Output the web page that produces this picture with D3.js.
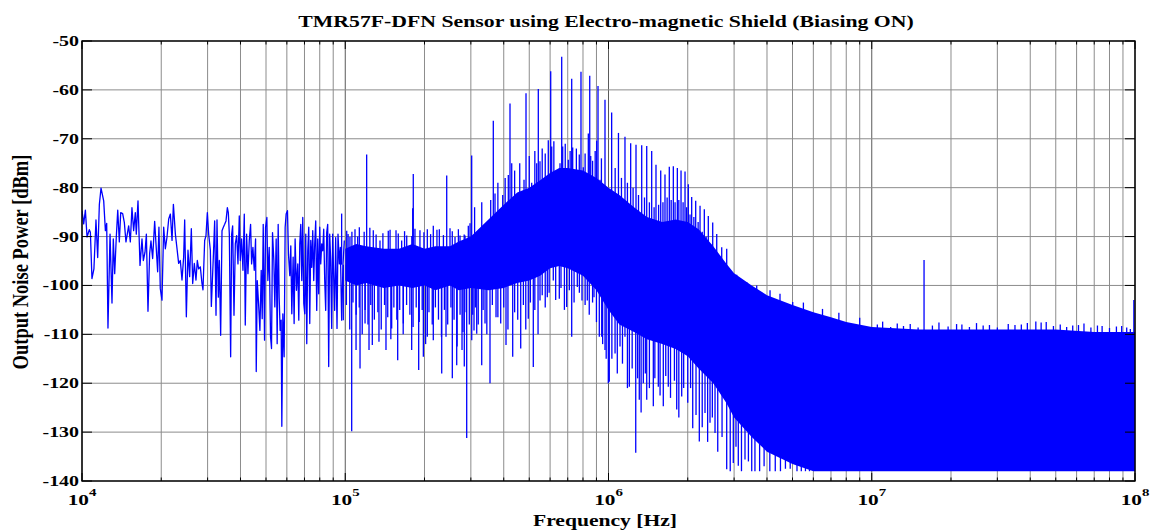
<!DOCTYPE html>
<html>
<head>
<meta charset="utf-8">
<script src="https://cdn.jsdelivr.net/npm/d3@7"></script>
<style>
  body { margin: 0; background: #fff; }
  text { font-family: "Liberation Serif", "Times New Roman", serif; font-weight: bold; fill: #000; }
</style>
</head>
<body>
<div id="chart"></div>
<script>
// Noise spectrum.
// Low band (10 kHz - 100 kHz): the trace itself, frequency in kHz
const lowKHz = [
  10.00, 10.15, 10.30, 10.45, 10.66, 10.76, 10.91, 11.10, 11.30, 11.47, 11.64, 11.81, 12.09, 12.27, 12.41, 12.55,
  12.78, 13.00, 13.15, 13.31, 13.50, 13.67, 13.86, 14.03, 14.27, 14.48, 14.69, 15.04, 15.26, 15.48, 15.71, 15.94,
  16.08, 16.32, 16.61, 16.90, 17.10, 17.35, 17.56, 17.81, 18.07, 18.28, 18.55, 18.88, 19.15, 19.38, 19.60, 19.83,
  20.13, 20.43, 20.73, 21.03, 21.35, 21.66, 21.98, 22.24, 22.63, 22.96, 23.29, 23.63, 23.98, 24.33, 24.55, 24.91,
  25.27, 25.64, 26.02, 26.33, 26.71, 27.10, 27.42, 27.74, 28.15, 28.56, 28.81, 29.24, 29.58, 29.93, 30.28, 30.73,
  31.00, 31.54, 31.91, 32.29, 32.57, 32.95, 33.24, 33.63, 34.03, 34.43, 34.83, 35.24, 35.65, 35.96, 36.28, 36.70,
  37.03, 37.35, 37.79, 38.23, 38.68, 39.13, 39.58, 39.93, 40.40, 40.87, 41.35, 41.71, 42.20, 42.69, 43.19, 43.69,
  44.08, 44.59, 45.11, 45.64, 45.91, 46.31, 46.85, 47.40, 47.95, 48.37, 48.80, 49.37, 49.80, 50.38, 50.82, 51.42,
  52.02, 52.47, 52.93, 53.55, 54.02, 54.65, 55.13, 55.62, 56.10, 56.59, 57.09, 57.42, 57.93, 58.60, 59.12, 59.63,
  60.33, 60.86, 61.57, 62.11, 62.66, 63.39, 63.94, 64.50, 65.26, 66.02, 66.60, 67.18, 67.77, 68.36, 68.96, 69.57,
  70.18, 70.79, 71.41, 72.04, 72.67, 73.31, 73.95, 74.60, 75.25, 75.91, 76.57, 77.24, 77.92, 78.61, 79.29, 79.99,
  80.69, 81.40, 82.11, 82.83, 83.56, 84.29, 85.03, 85.77, 86.52, 87.28, 88.05, 88.82, 89.59, 90.38, 91.17, 91.97,
  93.05, 93.86, 94.96, 95.79, 96.91, 98.05, 99.19
];
const lowDb = [
  -84.7, -87.4, -84.6, -90.1, -88.6, -89.1, -98.6, -96.6, -86.6, -94.3, -83.4, -80.1, -82.7, -88.8, -87.3, -108.7,
  -89.5, -103.6, -90.5, -97.6, -90.1, -84.6, -91.1, -85.1, -85.3, -87.1, -91.1, -87.8, -91.1, -84.1, -88.8, -85.1,
  -89.5, -82.7, -95.9, -90.5, -94.9, -93.2, -89.5, -105.3, -93.5, -90.9, -94.5, -86.9, -92.5, -97.2, -88.1, -100.6,
  -103.0, -88.1, -92.5, -90.1, -86.4, -85.4, -90.8, -83.4, -89.5, -92.5, -95.5, -94.9, -98.9, -94.2, -86.6, -106.4,
  -92.8, -98.2, -88.4, -99.6, -95.5, -98.9, -94.9, -96.6, -96.2, -99.6, -100.9, -90.8, -89.8, -85.1, -89.5, -92.8,
  -104.3, -94.2, -86.8, -106.1, -86.6, -102.4, -94.9, -110.2, -88.8, -88.1, -87.5, -86.8, -84.1, -85.1, -89.5, -114.6,
  -89.5, -87.8, -106.1, -91.5, -89.8, -95.6, -85.8, -94.9, -90.5, -96.9, -85.4, -108.1, -89.5, -97.6, -90.8, -87.5,
  -95.6, -92.2, -96.9, -90.5, -117.6, -99.0, -103.7, -109.2, -96.9, -106.8, -87.5, -111.2, -88.1, -86.1, -99.0, -92.2,
  -110.5, -112.9, -89.2, -94.9, -104.4, -90.5, -111.9, -87.5, -102.4, -109.2, -107.1, -128.8, -105.8, -114.6, -88.1, -85.4,
  -84.7, -93.6, -98.0, -91.9, -105.8, -94.2, -107.8, -90.5, -101.0, -95.6, -107.1, -91.5, -87.5, -99.0, -86.1, -103.7,
  -105.8, -89.5, -111.9, -92.9, -88.1, -107.8, -90.8, -96.3, -88.8, -99.0, -91.5, -86.8, -105.1, -90.5, -101.7, -88.1,
  -95.6, -91.5, -92.9, -88.5, -99.0, -105.1, -89.2, -87.5, -116.6, -89.5, -94.9, -108.8, -89.5, -98.3, -105.1, -90.2,
  -108.8, -89.5, -95.6, -92.2, -107.1, -95.6, -90.8
];

// Dense part (100 kHz - 100 MHz): solid core of the trace, upper and lower edge
const bandHz = [
  1.0e5, 1.1e5, 1.2e5, 1.4e5, 1.6e5, 1.8e5, 2.0e5, 2.2e5, 2.5e5, 2.7e5, 3.0e5, 3.5e5, 4.0e5, 4.5e5,
  5.0e5, 5.5e5, 6.0e5, 6.5e5, 7.0e5, 8.0e5, 9.0e5, 1.0e6, 1.1e6, 1.25e6, 1.4e6, 1.6e6, 1.8e6, 2.0e6,
  2.2e6, 2.5e6, 2.8e6, 3.0e6, 3.5e6, 4.0e6, 5.0e6, 6.0e6, 7.0e6, 8.0e6, 1.0e7, 1.5e7, 2.0e7, 3.0e7,
  4.0e7, 5.0e7, 7.0e7, 1.0e8
];
const bandTop = [
  -92.5, -91.5, -92, -92.5, -92.5, -91.5, -92.5, -92, -92, -91, -90, -86.5, -83.5, -81,
  -80, -78.5, -77, -76, -76, -76.5, -78, -80, -81.5, -84, -86, -87, -86.5, -87,
  -88.5, -92, -95.5, -97.5, -100, -102, -104, -105.5, -106.5, -107.5, -108.5, -109, -109, -109,
  -109, -109, -109.5, -109.5
];
const bandBot = [
  -99, -100, -99.5, -100.5, -100, -100.5, -100, -101, -100, -101, -100.5, -101, -100.5, -99.5,
  -99, -98, -96.5, -96, -96.5, -98, -101, -105, -108, -109.5, -111, -112, -113, -114.5,
  -117, -120, -124, -127, -131, -134, -136.5, -138, -138, -138, -138, -138, -138, -138,
  -138, -138, -138, -138
];

// Peaks that stick out above the core
const upHz = [
  // tall comb
  9.69e4, 1.206e5, 1.813e5, 2.429e5, 3.022e5, 3.651e5, 4.225e5, 4.860e5, 5.412e5, 6.032e5, 6.641e5, 7.248e5,
  7.861e5, 8.486e5, 9.123e5, 9.698e5, 1.028e6, 1.091e6, 1.155e6, 1.214e6, 1.272e6, 1.337e6, 1.397e6, 1.459e6,
  1.515e6, 1.579e6, 1.639e6, 1.702e6, 1.763e6, 1.826e6, 1.886e6, 1.953e6, 2.010e6, 2.070e6, 2.144e6, 2.227e6,
  2.312e6, 2.394e6, 2.488e6, 2.577e6, 2.692e6, 2.812e6, 2.938e6, 3.069e6, 3.349e6, 3.656e6, 4.108e6, 4.482e6,
  5.009e6,
  // side peaks
  1.804e5, 2.978e5, 3.569e5, 3.706e5, 3.964e5, 4.163e5, 4.289e5, 4.776e5, 5.108e5, 5.337e5, 5.492e5, 5.906e5,
  6.085e5, 6.543e5, 6.699e5, 7.036e5, 7.311e5, 7.745e5, 8.021e5, 8.382e5, 8.560e5, 9.020e5, 9.287e5,
  3.1e5, 3.3e5, 3.8e5, 4.05e5, 4.4e5, 4.6e5, 5.0e5, 5.25e5, 5.6e5, 5.75e5, 6.2e5, 6.85e5, 7.15e5, 7.55e5,
  8.15e5, 8.7e5, 8.9e5, 9.4e5,
  1.06e6, 1.12e6, 1.18e6, 1.24e6, 1.30e6, 1.37e6, 1.43e6, 1.49e6, 1.55e6, 1.61e6, 1.67e6, 1.73e6, 1.79e6,
  1.85e6, 1.92e6, 1.98e6, 2.04e6, 2.11e6, 2.19e6, 2.27e6, 2.35e6, 2.44e6, 2.53e6, 2.63e6, 2.75e6, 2.87e6,
  // fringe 100 - 300 kHz
  1.013e5, 1.025e5, 1.042e5, 1.06e5, 1.089e5, 1.115e5, 1.131e5, 1.18e5, 1.24e5, 1.278e5, 1.31e5, 1.355e5,
  1.39e5, 1.457e5, 1.48e5, 1.559e5, 1.59e5, 1.638e5, 1.68e5, 1.712e5, 1.79e5, 1.84e5, 1.922e5, 1.99e5,
  2.050e5, 2.11e5, 2.160e5, 2.23e5, 2.277e5, 2.36e5, 2.500e5, 2.55e5, 2.612e5, 2.69e5, 2.729e5, 2.83e5,
  2.851e5, 2.934e5,
  // fringe 5 - 100 MHz
  5.5e6, 6.5e6, 7.5e6, 9.0e6, 1.05e7, 1.1e7, 1.18e7, 1.25e7, 1.32e7, 1.4e7, 1.5e7, 1.58e7, 1.7e7, 1.8e7,
  1.95e7, 2.1e7, 2.2e7, 2.35e7, 2.5e7, 2.65e7, 2.8e7, 3.0e7, 3.3e7, 3.5e7, 3.7e7, 3.9e7, 4.2e7, 4.4e7,
  4.6e7, 4.9e7, 5.2e7, 5.5e7, 5.8e7, 6.1e7, 6.4e7, 6.8e7, 7.2e7, 7.5e7, 8.0e7, 8.5e7, 8.9e7, 9.3e7,
  9.6e7, 9.9e7
];
const upDb = [
  -85.3, -73.2, -77.2, -77.5, -73.4, -66.3, -62.8, -60.7, -59.8, -56.2, -53.2, -57.7,
  -56.3, -57.1, -59.2, -62.0, -64.6, -68.8, -69.6, -70.9, -71.2, -71.3, -71.5, -72.5,
  -75.3, -76.5, -77.3, -75.7, -75.6, -76.0, -76.5, -76.7, -79.3, -81.9, -82.7, -83.7,
  -84.4, -85.8, -87.1, -89.5, -92.2, -92.5, -97.3, -97.8, -99.3, -100.0, -101.0, -101.7,
  -103.4,
  -84.2, -87.3, -82.5, -81.2, -81.5, -77.4, -75.0, -78.4, -79.0, -75.0, -74.6, -70.3,
  -71.6, -75.0, -71.6, -74.3, -71.8, -73.2, -75.8, -68.9, -73.5, -70.4, -78.4,
  -84.0, -83.0, -79.0, -78.0, -76.5, -75.0, -73.5, -72.5, -72.0, -73.0, -70.5, -71.0, -72.5, -72.0,
  -73.0, -74.5, -72.5, -74.0,
  -76.0, -78.0, -79.0, -80.0, -81.5, -82.0, -83.0, -84.0, -83.5, -83.0, -82.0, -82.5, -83.0,
  -82.5, -83.0, -84.0, -85.5, -86.0, -87.0, -89.0, -90.0, -91.5, -93.0, -94.5, -96.0, -98.0,
  -88.8, -89.5, -90.1, -89.0, -88.5, -90.0, -88.1, -89.0, -88.2, -88.7, -89.6, -90.8,
  -89.3, -88.8, -88.6, -88.7, -89.4, -90.8, -88.9, -89.8, -89.9, -88.4, -88.7, -89.1,
  -88.5, -89.5, -87.8, -88.6, -88.5, -89.7, -88.3, -88.9, -90.1, -88.5, -89.8, -89.6,
  -89.8, -87.8,
  -103.5, -104.8, -105.6, -106.6, -108.0, -107.4, -108.5, -107.8, -108.3, -107.9, -108.6, -94.8, -108.2, -107.6,
  -108.4, -107.9, -108.0, -108.5, -107.7, -108.2, -108.1, -108.6, -107.9, -108.1, -108.0, -107.7, -107.4, -107.6,
  -107.5, -108.3, -108.0, -108.5, -108.2, -108.1, -107.8, -108.6, -108.2, -108.3, -108.7, -108.4, -108.3, -108.6,
  -108.9, -103.0
];

// Dips that reach below the core
const downHz = [
  9.83e4, 1.058e5, 1.099e5, 1.138e5, 1.189e5, 1.231e5, 1.267e5, 1.343e5, 1.428e5, 1.501e5, 1.582e5, 1.662e5,
  1.788e5, 1.901e5, 1.980e5, 2.050e5, 2.160e5, 2.325e5, 2.414e5, 2.551e5, 2.651e5, 2.777e5, 2.833e5, 2.893e5,
  3.023e5, 3.084e5, 3.158e5, 3.299e5, 3.396e5, 3.547e5, 3.739e5, 3.895e5, 4.080e5, 4.326e5, 4.640e5, 4.958e5,
  5.180e5, 5.493e5, 5.855e5, 6.170e5, 6.503e5, 6.936e5, 7.248e5, 7.612e5, 7.930e5, 8.308e5, 8.809e5, 9.227e5,
  9.423e5, 9.698e5, 9.983e5, 1.007e6, 1.059e6, 1.106e6, 1.155e6, 1.200e6, 1.269e6, 1.309e6, 1.356e6, 1.397e6,
  1.480e6, 1.546e6, 1.615e6, 1.687e6, 1.816e6, 1.897e6, 2.089e6, 2.213e6, 2.326e6, 2.430e6, 2.539e6, 2.812e6,
  2.979e6, 3.112e6, 3.300e6, 3.6e6, 3.9e6, 4.3e6, 4.7e6, 5.2e6, 5.6e6,
  // 100 - 300 kHz hatching
  1.01e5, 1.04e5, 1.07e5, 1.10e5, 1.13e5, 1.16e5, 1.19e5, 1.22e5, 1.25e5, 1.29e5, 1.33e5, 1.37e5,
  1.41e5, 1.45e5, 1.49e5, 1.53e5, 1.57e5, 1.61e5, 1.66e5, 1.71e5, 1.76e5, 1.81e5, 1.86e5, 1.91e5,
  1.96e5, 2.02e5, 2.08e5, 2.14e5, 2.20e5, 2.26e5, 2.32e5, 2.38e5, 2.45e5, 2.52e5, 2.59e5, 2.66e5,
  2.73e5, 2.80e5, 2.88e5, 2.96e5,
  // 300 kHz - 1 MHz
  3.05e5, 3.12e5, 3.20e5, 3.34e5, 3.45e5, 3.62e5, 3.80e5, 4.00e5, 4.15e5, 4.40e5, 4.52e5, 4.75e5,
  4.85e5, 5.05e5, 5.25e5, 5.40e5, 5.60e5, 5.75e5, 5.95e5, 6.30e5, 6.60e5, 6.80e5, 7.10e5, 7.40e5,
  7.75e5, 8.15e5, 8.45e5, 8.70e5, 9.00e5, 9.50e5, 9.80e5,
  // 1 - 6 MHz
  1.03e6, 1.08e6, 1.13e6, 1.18e6, 1.23e6, 1.29e6, 1.33e6, 1.38e6, 1.43e6, 1.50e6, 1.57e6, 1.65e6,
  1.72e6, 1.78e6, 1.85e6, 1.93e6, 2.00e6, 2.05e6, 2.15e6, 2.27e6, 2.38e6, 2.48e6, 2.60e6, 2.70e6,
  2.90e6, 3.05e6, 3.20e6, 3.40e6, 3.5e6, 3.75e6, 4.1e6, 4.5e6, 4.9e6, 5.4e6, 5.8e6
];
const downDb = [
  -107.1, -129.8, -113.2, -117.0, -107.8, -113.2, -112.2, -111.5, -113.2, -108.8, -115.3, -107.8,
  -113.2, -117.3, -114.6, -110.5, -111.2, -118.0, -110.5, -119.0, -116.3, -113.2, -116.6, -131.2,
  -111.2, -109.2, -109.9, -116.3, -107.8, -120.0, -106.5, -107.8, -112.2, -114.6, -112.9, -106.8,
  -116.7, -103.1, -102.4, -99.0, -102.7, -104.4, -110.5, -100.3, -103.1, -103.1, -102.4, -110.5,
  -110.5, -113.2, -120.0, -119.7, -113.9, -112.5, -110.5, -120.7, -134.2, -123.4, -120.0, -123.4,
  -124.7, -120.7, -124.7, -120.7, -125.4, -122.7, -129.2, -131.9, -126.1, -128.1, -130.2, -137.6,
  -136.3, -136.9, -135.6, -138.0, -137.0, -138.0, -137.5, -138.0, -138.0,
  -104.0, -109.0, -103.5, -106.0, -104.5, -110.0, -105.0, -108.0, -104.0, -107.0, -105.5, -109.0,
  -104.0, -106.5, -111.0, -104.5, -107.0, -105.0, -110.0, -104.0, -106.0, -108.5, -104.5, -107.5,
  -105.0, -112.0, -105.5, -108.0, -104.5, -107.0, -110.5, -105.0, -108.0, -104.5, -107.0, -112.5,
  -106.0, -109.5, -105.5, -108.0,
  -106.0, -104.5, -108.0, -105.0, -110.0, -104.0, -106.5, -104.5, -109.0, -105.5, -107.0, -104.0,
  -109.0, -103.5, -105.0, -110.0, -102.0, -104.5, -101.5, -103.0, -100.5, -105.0, -101.0, -103.5,
  -101.5, -104.0, -106.0, -103.5, -107.5, -112.0, -115.0,
  -115.0, -118.0, -116.0, -121.0, -117.0, -119.0, -126.0, -118.0, -121.0, -119.0, -122.5, -118.5,
  -123.0, -119.5, -127.0, -121.0, -124.0, -121.0, -126.5, -129.0, -132.0, -127.0, -134.0, -131.0,
  -138.0, -133.0, -138.0, -136.0, -138.0, -138.0, -138.0, -138.0, -137.5, -138.0, -138.0
];

const yTicks = [-140, -130, -120, -110, -100, -90, -80, -70, -60, -50];
const xDecades = [1e4, 1e5, 1e6, 1e7, 1e8];
const xExponents = ["4", "5", "6", "7", "8"];

const width = 1155, height = 532;
const margin = {top: 41, right: 20, bottom: 51, left: 82};
const plotW = width - margin.left - margin.right;
const plotH = height - margin.top - margin.bottom;
const blue = "#0000ff";

const svg = d3.select("#chart")
  .append("svg")
  .attr("width", width)
  .attr("height", height);

const x = d3.scaleLog().domain([1e4, 1e8]).range([margin.left, margin.left + plotW]);
const y = d3.scaleLinear().domain([-140, -50]).range([margin.top + plotH, margin.top]);

// minor + major grid
const minorF = [];
xDecades.slice(0, -1).forEach(d => { for (let k = 2; k <= 9; k++) minorF.push(k * d); });

const grid = svg.append("g");
grid.selectAll(".vminor").data(minorF).join("line")
  .attr("x1", d => x(d)).attr("x2", d => x(d))
  .attr("y1", y(-50)).attr("y2", y(-140))
  .attr("stroke", "#8c8c8c").attr("stroke-width", 1);
grid.selectAll(".vmajor").data(xDecades).join("line")
  .attr("x1", d => x(d)).attr("x2", d => x(d))
  .attr("y1", y(-50)).attr("y2", y(-140))
  .attr("stroke", "#5a5a5a").attr("stroke-width", 1);
grid.selectAll(".h").data(yTicks).join("line")
  .attr("x1", x(1e4)).attr("x2", x(1e8))
  .attr("y1", d => y(d)).attr("y2", d => y(d))
  .attr("stroke", "#8c8c8c").attr("stroke-width", 1);

// data, clipped to the axes box
svg.append("clipPath").attr("id", "plotclip")
  .append("rect")
  .attr("x", margin.left).attr("y", margin.top)
  .attr("width", plotW).attr("height", plotH);

const plot = svg.append("g").attr("clip-path", "url(#plotclip)");

const bandIdx = d3.range(bandHz.length);
const area = d3.area()
  .x(i => x(bandHz[i]))
  .y0(i => y(bandBot[i]))
  .y1(i => y(bandTop[i]));

plot.append("path")
  .datum(bandIdx)
  .attr("fill", blue)
  .attr("d", area);

// middle of the core, used as the foot of each peak / dip
const mid = d3.scaleLog()
  .domain(bandHz)
  .range(bandHz.map((f, i) => (bandTop[i] + bandBot[i]) / 2))
  .clamp(true);

plot.append("g").selectAll("line")
  .data(d3.range(upHz.length))
  .join("line")
  .attr("x1", i => x(upHz[i])).attr("x2", i => x(upHz[i]))
  .attr("y1", i => y(mid(upHz[i]))).attr("y2", i => y(upDb[i]))
  .attr("stroke", blue).attr("stroke-width", 1.3);

plot.append("g").selectAll("line")
  .data(d3.range(downHz.length))
  .join("line")
  .attr("x1", i => x(downHz[i])).attr("x2", i => x(downHz[i]))
  .attr("y1", i => y(mid(downHz[i]))).attr("y2", i => y(downDb[i]))
  .attr("stroke", blue).attr("stroke-width", 1.3);

const line = d3.line()
  .x(i => x(lowKHz[i] * 1e3))
  .y(i => y(lowDb[i]));

plot.append("path")
  .datum(d3.range(lowKHz.length))
  .attr("fill", "none")
  .attr("stroke", blue)
  .attr("stroke-width", 1.3)
  .attr("stroke-linejoin", "round")
  .attr("d", line);

// box and tick marks
const axes = svg.append("g").attr("stroke", "#000");
axes.append("rect")
  .attr("x", margin.left).attr("y", margin.top)
  .attr("width", plotW).attr("height", plotH)
  .attr("fill", "none").attr("stroke-width", 1.4);

axes.selectAll(".xt").data(minorF.map(f => [f, 3.5]).concat(xDecades.map(f => [f, 8]))).join("g")
  .each(function(d) {
    const g = d3.select(this);
    g.append("line").attr("x1", x(d[0])).attr("x2", x(d[0]))
      .attr("y1", y(-140)).attr("y2", y(-140) - d[1]);
    g.append("line").attr("x1", x(d[0])).attr("x2", x(d[0]))
      .attr("y1", y(-50)).attr("y2", y(-50) + d[1]);
  });

axes.selectAll(".yt").data(yTicks).join("g")
  .each(function(d) {
    const g = d3.select(this);
    g.append("line").attr("x1", x(1e4)).attr("x2", x(1e4) + 10)
      .attr("y1", y(d)).attr("y2", y(d));
    g.append("line").attr("x1", x(1e8)).attr("x2", x(1e8) - 10)
      .attr("y1", y(d)).attr("y2", y(d));
  });

// tick labels (the original image is stretched sideways)
const sx = 1.42;
svg.append("g").selectAll("text").data(yTicks).join("text")
  .attr("transform", d => `translate(${x(1e4) - 3},${y(d) + 5}) scale(${sx},1)`)
  .attr("text-anchor", "end")
  .attr("font-size", 14)
  .text(d => d);

svg.append("g").selectAll("text").data(xDecades).join("text")
  .attr("transform", d => `translate(${x(d)},505) scale(${sx},1)`)
  .attr("text-anchor", "middle")
  .attr("font-size", 15)
  .each(function(d, i) {
    const t = d3.select(this);
    t.append("tspan").text("10");
    t.append("tspan").attr("dy", -9).attr("font-size", 10.5).text(xExponents[i]);
  });

// title and axis labels
svg.append("text")
  .attr("transform", `translate(606,27) scale(1.28,1)`)
  .attr("text-anchor", "middle")
  .attr("font-size", 17)
  .text("TMR57F-DFN Sensor using Electro-magnetic Shield (Biasing ON)");

svg.append("text")
  .attr("transform", `translate(605,526) scale(1.27,1)`)
  .attr("text-anchor", "middle")
  .attr("font-size", 17)
  .text("Frequency [Hz]");

svg.append("text")
  .attr("transform", `translate(28,262) scale(1.27,1) rotate(-90)`)
  .attr("text-anchor", "middle")
  .attr("font-size", 18.5)
  .text("Output Noise Power [dBm]");
</script>
</body>
</html>
